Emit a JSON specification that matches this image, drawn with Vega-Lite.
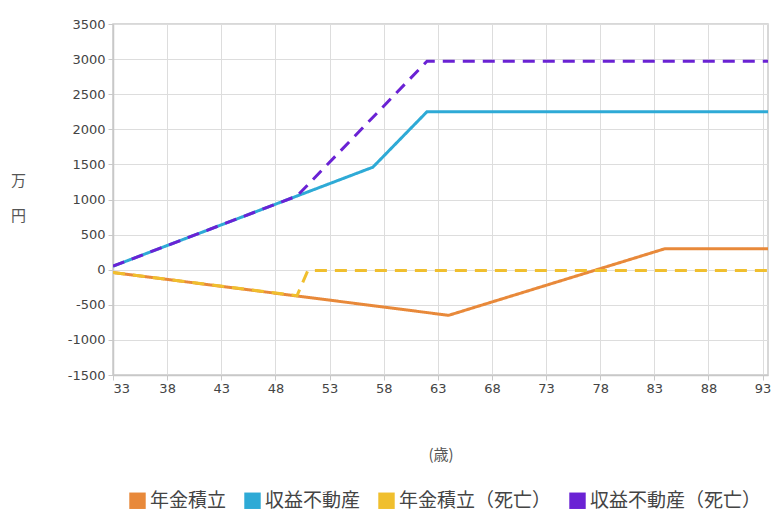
{
  "$schema": "https://vega.github.io/schema/vega-lite/v6.json",
  "width": 655,
  "height": 351,
  "autosize": {"type": "none"},
  "padding": {"left": 113, "top": 24, "right": 5, "bottom": 145},
  "background": "white",
  "config": {
    "font": "Noto Sans CJK JP",
    "view": {"stroke": "#cccccc", "strokeWidth": 1.5}
  },
  "data": {
    "values": [
      {"series": "年金積立", "age": 33, "value": -40},
      {"series": "年金積立", "age": 64, "value": -650},
      {"series": "年金積立", "age": 84, "value": 300},
      {"series": "年金積立", "age": 94, "value": 300},
      {"series": "収益不動産", "age": 33, "value": 50},
      {"series": "収益不動産", "age": 50, "value": 1050},
      {"series": "収益不動産", "age": 57, "value": 1460},
      {"series": "収益不動産", "age": 62, "value": 2250},
      {"series": "収益不動産", "age": 94, "value": 2250},
      {"series": "年金積立（死亡）", "age": 33, "value": -40},
      {"series": "年金積立（死亡）", "age": 50, "value": -370},
      {"series": "年金積立（死亡）", "age": 51, "value": -10},
      {"series": "年金積立（死亡）", "age": 94, "value": -10},
      {"series": "収益不動産（死亡）", "age": 33, "value": 50},
      {"series": "収益不動産（死亡）", "age": 50, "value": 1050},
      {"series": "収益不動産（死亡）", "age": 62, "value": 2970},
      {"series": "収益不動産（死亡）", "age": 94, "value": 2970}
    ]
  },
  "mark": {"type": "line", "strokeWidth": 3, "clip": true},
  "encoding": {
    "x": {
      "field": "age", "type": "quantitative",
      "scale": {"domain": [33, 93.5], "nice": false, "zero": false},
      "axis": {
        "values": [33, 38, 43, 48, 53, 58, 63, 68, 73, 78, 83, 88, 93],
        "title": "(歳)", "titleFontWeight": "normal", "titleFontSize": 15, "titleColor": "#555555",
        "titlePadding": 52, "labelFontSize": 13, "labelColor": "#444444", "labelPadding": 2,
        "labelFont": "DejaVu Sans", "format": "d",
        "gridColor": "#dddddd", "domainColor": "#c8c8c8", "domainWidth": 1.5,
        "tickColor": "#c8c8c8", "tickSize": 5
      }
    },
    "y": {
      "field": "value", "type": "quantitative",
      "scale": {"domain": [-1500, 3500], "nice": false},
      "axis": {
        "values": [-1500, -1000, -500, 0, 500, 1000, 1500, 2000, 2500, 3000, 3500],
        "title": ["万", "円"], "titleAngle": 0, "titleX": -95, "titleY": 164,
        "titleLineHeight": 35, "titleFontWeight": "normal", "titleFontSize": 15, "titleColor": "#555555",
        "labelFontSize": 13, "labelColor": "#444444", "labelPadding": 3, "labelFont": "DejaVu Sans",
        "labelExpr": "'' + datum.value",
        "gridColor": "#dddddd", "domainColor": "#c8c8c8", "domainWidth": 1.5,
        "tickColor": "#c8c8c8", "tickSize": 5
      }
    },
    "color": {
      "field": "series", "type": "nominal",
      "scale": {
        "domain": ["年金積立", "収益不動産", "年金積立（死亡）", "収益不動産（死亡）"],
        "range": ["#e8893a", "#2eaad6", "#f0bf2e", "#6a22d4"]
      },
      "legend": {
        "orient": "none", "legendX": 15, "legendY": 467, "direction": "horizontal",
        "columns": 4, "title": null, "symbolType": "square", "symbolSize": 270,
        "symbolStrokeWidth": 0, "labelFontSize": 19, "labelColor": "#444444",
        "labelLimit": 400,
        "columnPadding": 16, "labelOffset": 3, "symbolOpacity": 1,
        "encode": {
          "symbols": {
            "update": {
              "fill": {"scale": "color", "field": "value"},
              "strokeDash": {"value": [1, 0]},
              "strokeWidth": {"value": 0}
            }
          }
        }
      }
    },
    "strokeDash": {
      "field": "series", "type": "nominal",
      "scale": {
        "domain": ["年金積立", "収益不動産", "年金積立（死亡）", "収益不動産（死亡）"],
        "range": [[1, 0], [1, 0], [12, 8], [12, 8]]
      },
      "legend": null
    },
    "order": {"field": "age"}
  }
}
